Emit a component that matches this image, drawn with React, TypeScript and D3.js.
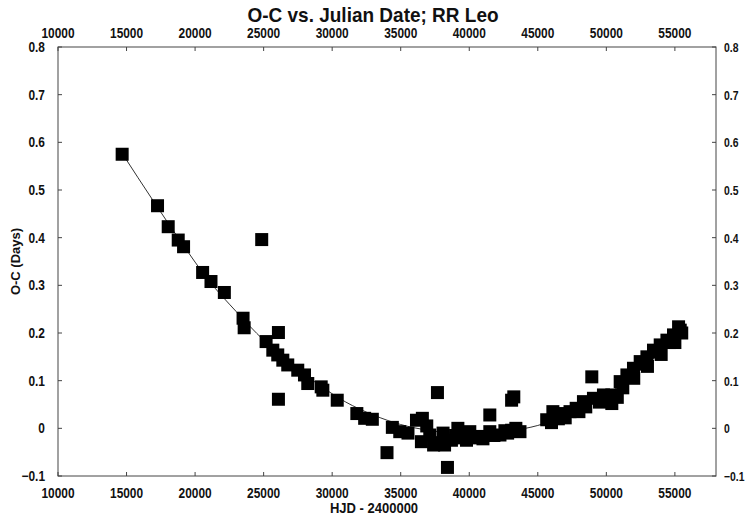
import React from "react";
import * as d3 from "d3";

const hjd = [
  14680, 17260, 18040, 18770, 19160, 20550, 21160, 22135, 23500, 23580,
  24860, 25180, 25670, 26030, 26080, 26080, 26400, 26760, 27490, 27980,
  28220, 29200, 29320, 30370, 31800, 32370, 32930, 34000, 34390, 34930,
  35530, 36150, 36580, 36510, 36900, 37120, 37400, 37680, 37800, 38090,
  38200, 38410, 38700, 39000, 39170, 39500, 39800, 40040, 40300, 40650,
  41000, 41500, 41500, 41800, 42240, 42600, 42800, 43090, 43250, 43090,
  43400, 43700, 45650, 46000, 46100, 46500, 46850, 47000, 47350, 47800,
  48000, 48330, 48500, 48940, 49060, 49500, 49790, 50000, 50400, 50400,
  50800, 51010, 51200, 51500, 51980, 52000, 52470, 52960, 53000, 53440,
  53930, 54000, 54420, 54900, 55000, 55390, 55270, 55500, 51700, 52700,
  53700, 54600,
];
const oc = [
  0.575, 0.467, 0.423, 0.395, 0.381, 0.327, 0.308, 0.285, 0.231, 0.211,
  0.396, 0.182, 0.164, 0.154, 0.201, 0.061, 0.143, 0.133, 0.122, 0.112,
  0.094, 0.087, 0.08, 0.059, 0.031, 0.021, 0.019, -0.051, 0.002, -0.007,
  -0.01, 0.017, 0.021, -0.028, 0.005, -0.014, -0.035, 0.075, -0.03, -0.01,
  -0.035, -0.082, -0.025, -0.015, 0.0, -0.02, -0.025, -0.007, -0.02, -0.017,
  -0.022, 0.028, -0.007, -0.015, -0.014, -0.005, -0.01, 0.059, 0.066, -0.004,
  0.0, -0.007, 0.018, 0.012, 0.035, 0.02, 0.031, 0.022, 0.035, 0.042,
  0.035, 0.056, 0.045, 0.108, 0.063, 0.055, 0.07, 0.058, 0.07, 0.052,
  0.065, 0.098, 0.085, 0.112, 0.126, 0.105, 0.14, 0.15, 0.13, 0.164,
  0.175, 0.155, 0.185, 0.196, 0.18, 0.206, 0.213, 0.2, 0.11, 0.135,
  0.16, 0.18,
];

const fitHjd = [14680, 17000, 19000, 21000, 23000, 25000, 27000, 29000, 31000, 33000, 35000, 37000, 39000, 41000, 43000, 45000, 47000, 49000, 51000, 53000, 55400];
const fitOc = [0.577, 0.475, 0.39, 0.31, 0.245, 0.185, 0.135, 0.092, 0.055, 0.028, 0.008, -0.004, -0.01, -0.01, -0.005, 0.006, 0.027, 0.053, 0.09, 0.135, 0.205];

const xTicks = [10000, 15000, 20000, 25000, 30000, 35000, 40000, 45000, 50000, 55000];
const yTicks = [-0.1, 0, 0.1, 0.2, 0.3, 0.4, 0.5, 0.6, 0.7, 0.8];

const title = "O-C vs. Julian Date; RR Leo";
const xTitle = "HJD - 2400000";
const yTitle = "O-C (Days)";

const W = 745, H = 515;
const L = 58, R = 716, T = 47, B = 476;
const FONT = "'Liberation Sans', Arial, sans-serif";

function Label(props: { x: number; y: number; anchor: string; size: number; sx?: number; children: React.ReactNode }) {
  const sx = props.sx ?? 0.85;
  return (
    <text
      transform={`translate(${props.x},${props.y}) scale(${sx},1)`}
      textAnchor={props.anchor}
      fontFamily={FONT}
      fontWeight="bold"
      fontSize={props.size}
      fill="#111"
    >
      {props.children}
    </text>
  );
}

export default function App() {
  const x = d3.scaleLinear().domain([10000, 58000]).range([L, R]);
  const y = d3.scaleLinear().domain([-0.1, 0.8]).range([B, T]);
  const line = d3
    .line<number>()
    .x((_, i) => x(fitHjd[i]))
    .y((d) => y(d))
    .curve(d3.curveMonotoneX);
  const sq = 13;
  const fmtY = (v: number) => (Math.abs(v) < 1e-9 ? "0" : d3.format(".1f")(v));
  return (
    <svg width={W} height={H} style={{ position: "absolute", left: 0, top: 0, background: "#fff" }}>
      <rect x={0} y={0} width={W} height={H} fill="#fff" />
      <Label x={373} y={22} anchor="middle" size={20} sx={0.95}>
        {title}
      </Label>
      <rect x={L} y={T} width={R - L} height={B - T} fill="none" stroke="#444" strokeWidth={1} />
      {xTicks.map((t) => (
        <g key={"x" + t}>
          <line x1={x(t)} x2={x(t)} y1={T} y2={T + 4} stroke="#444" />
          <line x1={x(t)} x2={x(t)} y1={B} y2={B - 4} stroke="#444" />
          <Label x={x(t)} y={38} anchor="middle" size={14}>
            {t}
          </Label>
          <Label x={x(t)} y={498} anchor="middle" size={14}>
            {t}
          </Label>
        </g>
      ))}
      {yTicks.map((t) => (
        <g key={"y" + t}>
          <line x1={L} x2={L + 4} y1={y(t)} y2={y(t)} stroke="#444" />
          <line x1={R} x2={R - 4} y1={y(t)} y2={y(t)} stroke="#444" />
          <Label x={45} y={y(t) + 5} anchor="end" size={14}>
            {fmtY(t)}
          </Label>
          <Label x={724} y={y(t) + 5} anchor="start" size={13} sx={0.8}>
            {fmtY(t)}
          </Label>
        </g>
      ))}
      <Label x={374} y={513} anchor="middle" size={14} sx={0.93}>
        {xTitle}
      </Label>
      <text
        transform={`translate(20, ${y(0.35)}) rotate(-90)`}
        textAnchor="middle"
        fontFamily={FONT}
        fontWeight="bold"
        fontSize={13}
        fill="#111"
      >
        {yTitle}
      </text>
      <path d={line(fitOc) || ""} fill="none" stroke="#333" strokeWidth={1} />
      {hjd.map((h, i) => (
        <rect key={i} x={x(h) - sq / 2} y={y(oc[i]) - sq / 2} width={sq} height={sq} fill="#000" />
      ))}
    </svg>
  );
}
